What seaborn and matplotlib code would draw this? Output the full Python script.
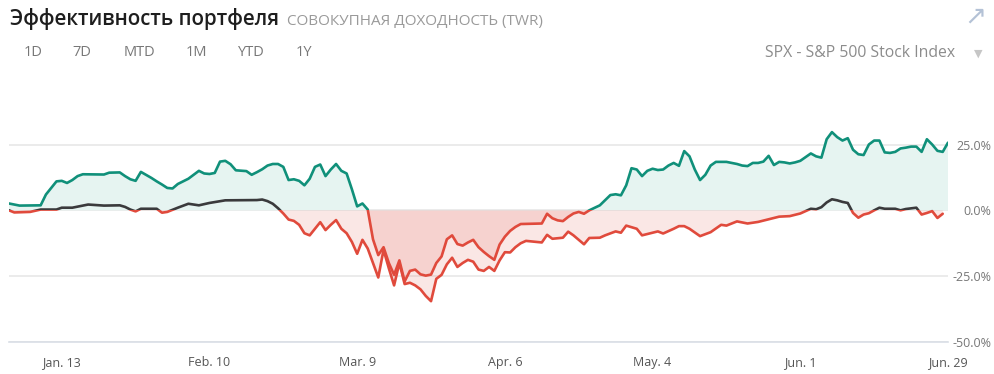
import matplotlib
matplotlib.use("Agg")
import matplotlib.pyplot as plt
import matplotlib.transforms as mtransforms
from matplotlib.patches import Rectangle
import seaborn as sns
import pandas as pd

YEAR = "2020-"

# Portfolio, cumulative return (TWR), %
P_DAYS = [
    "01-03", "01-05", "01-09", "01-10", "01-11", "01-12", "01-13", "01-14", "01-15", "01-16",
    "01-17", "01-21", "01-22", "01-24", "01-25", "01-26", "01-27", "01-28", "01-30", "01-31",
    "02-01", "02-02", "02-03", "02-04", "02-05", "02-06", "02-07", "02-08", "02-09", "02-10",
    "02-11", "02-12", "02-13", "02-14", "02-15", "02-17", "02-18", "02-19", "02-20", "02-21",
    "02-22", "02-23", "02-24", "02-25", "02-26", "02-27", "02-28", "02-29", "03-01", "03-02",
    "03-03", "03-04", "03-05", "03-06", "03-07", "03-08", "03-09", "03-10", "03-11", "03-12",
    "03-13", "03-14", "03-15", "03-16", "03-17", "03-18", "03-19", "03-20", "03-21", "03-22",
    "03-23", "03-24", "03-25", "03-26", "03-27", "03-28", "03-29", "03-30", "03-31", "04-01",
    "04-02", "04-03", "04-04", "04-05", "04-06", "04-07", "04-08", "04-09", "04-13", "04-14",
    "04-15", "04-16", "04-17", "04-18", "04-19", "04-20", "04-21", "04-22", "04-24", "04-26",
    "04-27", "04-28", "04-29", "04-30", "05-01", "05-02", "05-03", "05-04", "05-05", "05-06",
    "05-07", "05-08", "05-09", "05-10", "05-11", "05-12", "05-13", "05-14", "05-15", "05-16",
    "05-18", "05-20", "05-21", "05-22", "05-23", "05-24", "05-25", "05-26", "05-27", "05-28",
    "05-29", "05-30", "05-31", "06-01", "06-02", "06-03", "06-04", "06-05", "06-06", "06-07",
    "06-08", "06-09", "06-10", "06-11", "06-12", "06-13", "06-14", "06-15", "06-16", "06-17",
    "06-18", "06-19", "06-20", "06-21", "06-22", "06-23", "06-24", "06-25", "06-26", "06-27",
    "06-28", "06-29",
]
P_VALUES = [
    2.6, 1.8, 1.9, 6.0, 8.5, 11.0, 11.2, 10.4, 11.5, 13.0,
    13.7, 13.6, 14.3, 14.4, 13.0, 11.8, 11.2, 14.6, 12.3, 11.0,
    9.8, 8.5, 8.3, 10.0, 11.0, 12.0, 13.5, 15.0, 14.0, 13.8,
    14.2, 18.5, 18.8, 17.5, 15.2, 14.9, 13.5, 14.5, 15.6, 17.0,
    17.6, 17.6, 16.5, 11.5, 11.8, 11.2, 9.5, 12.0, 16.5, 17.4,
    13.0, 15.5, 17.6, 15.0, 14.0, 8.0, 1.5, 2.6, 0.3, -11.0,
    -17.0, -14.0, -20.0, -24.5, -19.0, -27.0, -23.0, -22.5, -24.3, -24.8,
    -24.4, -20.0, -17.5, -11.0, -9.5, -12.8, -13.4, -12.2, -11.2, -14.0,
    -15.8, -17.4, -18.8, -13.0, -10.0, -7.8, -6.3, -5.2, -5.0, -1.3,
    -3.0, -3.8, -4.1, -2.5, -1.2, -0.6, -1.3, 0.0, 1.9, 5.8,
    6.1, 5.7, 9.5, 16.0, 15.5, 13.0, 15.0, 15.8, 15.3, 15.5,
    17.0, 18.0, 16.9, 22.5, 20.5, 15.5, 11.5, 13.5, 17.0, 18.4,
    18.4, 17.6, 17.0, 16.8, 18.0, 18.0, 18.5, 20.7, 17.2, 18.4,
    18.2, 17.8, 18.2, 18.8, 20.2, 21.6, 20.5, 20.0, 27.0, 29.7,
    27.8, 26.5, 27.4, 23.0, 21.3, 21.0, 25.0, 26.5, 26.5, 22.0,
    21.8, 22.2, 23.5, 23.8, 24.2, 24.2, 22.2, 27.0, 25.0, 22.6,
    22.2, 25.7,
]

# Benchmark: SPX - S&P 500 Stock Index, %
B_DAYS = [
    "01-03", "01-04", "01-07", "01-09", "01-12", "01-13", "01-15", "01-18", "01-21", "01-24",
    "01-25", "01-26", "01-27", "01-28", "01-31", "02-01", "02-02", "02-03", "02-04", "02-06",
    "02-08", "02-10", "02-13", "02-19", "02-20", "02-21", "02-22", "02-23", "02-24", "02-25",
    "02-26", "02-27", "02-28", "02-29", "03-01", "03-02", "03-03", "03-04", "03-05", "03-06",
    "03-07", "03-08", "03-09", "03-10", "03-11", "03-12", "03-13", "03-14", "03-15", "03-16",
    "03-17", "03-18", "03-19", "03-20", "03-21", "03-22", "03-23", "03-24", "03-25", "03-26",
    "03-27", "03-28", "03-29", "03-30", "03-31", "04-01", "04-02", "04-03", "04-04", "04-05",
    "04-06", "04-07", "04-08", "04-09", "04-10", "04-13", "04-14", "04-15", "04-17", "04-18",
    "04-19", "04-21", "04-22", "04-24", "04-25", "04-27", "04-28", "04-29", "05-01", "05-02",
    "05-04", "05-05", "05-06", "05-08", "05-09", "05-10", "05-11", "05-13", "05-15", "05-17",
    "05-18", "05-20", "05-22", "05-24", "05-26", "05-28", "05-30", "06-01", "06-02", "06-03",
    "06-04", "06-05", "06-06", "06-07", "06-08", "06-09", "06-10", "06-11", "06-12", "06-13",
    "06-14", "06-15", "06-16", "06-17", "06-19", "06-20", "06-21", "06-23", "06-24", "06-25",
    "06-26", "06-27", "06-28",
]
B_VALUES = [
    0.0, -0.8, -0.6, 0.3, 0.3, 1.0, 1.0, 2.2, 1.8, 1.9,
    1.3, 0.3, -0.4, 0.6, 0.6, -0.9, -0.6, 0.2, 1.0, 2.5,
    1.9, 2.8, 3.8, 3.9, 4.1, 3.5, 2.5, 0.8, -1.2, -3.5,
    -4.0, -5.5, -8.7, -9.5, -7.0, -4.5, -7.5, -5.5, -3.7, -7.0,
    -8.7, -12.0, -16.5, -11.2, -14.5, -20.0, -25.5, -15.0, -22.0, -28.5,
    -20.0, -28.0, -27.5, -28.5, -30.0, -32.5, -34.5, -26.0, -24.5, -20.5,
    -18.0, -21.5, -20.0, -18.8, -19.5, -22.5, -23.0, -21.5, -23.0, -19.0,
    -15.9, -16.0, -14.0, -12.5, -11.6, -12.2, -9.3, -10.8, -10.4, -8.1,
    -9.5, -12.9, -10.5, -10.4, -9.5, -8.0, -8.5, -5.8, -7.0, -9.5,
    -8.5, -8.0, -8.8, -7.0, -6.0, -6.0, -7.0, -9.8, -8.3, -5.5,
    -5.8, -4.2, -5.0, -4.4, -3.4, -2.4, -2.2, -1.2, -0.3, 0.6,
    0.4, 1.2, 3.0, 4.2, 3.8, 3.2, 2.8, -1.0, -2.8, -1.6,
    -1.1, 0.0, 1.0, 0.6, 0.6, 0.0, 0.5, 1.0, -1.6, -1.0,
    -0.3, -2.9, -1.3,
]

TICK_DAYS = ["01-13", "02-10", "03-09", "04-06", "05-04", "06-01", "06-29"]
TICK_LABELS = ["Jan. 13", "Feb. 10", "Mar. 9", "Apr. 6", "May. 4", "Jun. 1", "Jun. 29"]
Y_TICKS = [25, 0, -25, -50]
PERIODS = ["1D", "7D", "MTD", "1M", "YTD", "1Y"]

GREEN = "#10907a"
GREEN_FILL = "#e6f4f1"
RED = "#e04a3c"
DARK = "#3a3a3c"

p_df = pd.DataFrame({"date": pd.to_datetime([YEAR + d for d in P_DAYS]), "value": P_VALUES})
b_df = pd.DataFrame({"date": pd.to_datetime([YEAR + d for d in B_DAYS]), "value": B_VALUES})

sns.set_theme(style="white")
plt.rcParams["font.family"] = ["Open Sans", "DejaVu Sans"]

W, H = 994, 374
fig = plt.figure(figsize=(W / 100, H / 100), dpi=100)
ax = fig.add_axes([9 / W, 1 - 342 / H, (948 - 9) / W, (342 - 105) / H])

# areas between zero and each series
ax.fill_between(p_df["date"], 0, p_df["value"], where=p_df["value"] >= 0,
                interpolate=True, color=GREEN_FILL, lw=0, zorder=1)
ax.fill_between(p_df["date"], 0, p_df["value"], where=p_df["value"] <= 0,
                interpolate=True, color=RED, alpha=0.13, lw=0, zorder=1)
ax.fill_between(b_df["date"], 0, b_df["value"], where=b_df["value"] <= 0,
                interpolate=True, color=RED, alpha=0.13, lw=0, zorder=1)

# lines: one colour above zero, red below zero
blend = mtransforms.blended_transform_factory(ax.transAxes, ax.transData)
for df, up_color in [(b_df, DARK), (p_df, GREEN)]:
    for color, y0 in [(up_color, 0), (RED, -1000)]:
        sns.lineplot(data=df, x="date", y="value", color=color, lw=1.9, ax=ax, zorder=3)
        ax.lines[-1].set_clip_path(Rectangle((0, y0), 1, 1000, transform=blend))

ax.set_xlim(p_df["date"].iloc[0], p_df["date"].iloc[-1])
ax.set_ylim(-50, 40)

for s in ["top", "left", "right"]:
    ax.spines[s].set_visible(False)
ax.spines["bottom"].set_color("#d9dee6")
ax.spines["bottom"].set_linewidth(1.2)
ax.yaxis.grid(True, color="#e9e9e9", lw=1.3, zorder=0)
ax.set_axisbelow(True)

ax.set_xticks(pd.to_datetime([YEAR + d for d in TICK_DAYS]))
ax.set_xticklabels(TICK_LABELS)
ax.tick_params(axis="x", length=0, pad=10, labelsize=9, labelcolor="#555555")

ax.yaxis.tick_right()
ax.set_yticks(Y_TICKS)
ax.set_yticklabels([f"{v:.1f}%" for v in Y_TICKS])
ax.tick_params(axis="y", length=0, pad=31, labelsize=9, labelcolor="#777777")
for lbl in ax.get_yticklabels():
    lbl.set_horizontalalignment("right")
ax.set_xlabel("")
ax.set_ylabel("")

# header
fig.text(10 / W, 1 - 25 / H, "Эффективность портфеля", fontsize=14.8, fontweight="semibold",
         color="#1e1e1e", va="baseline")
fig.text(287 / W, 1 - 25 / H, "СОВОКУПНАЯ ДОХОДНОСТЬ (TWR)", fontsize=11, color="#9a9a9a",
         va="baseline")
for label, xc in zip(PERIODS, [33, 82, 139, 196, 251, 304]):
    fig.text(xc / W, 1 - 53 / H, label, fontsize=10.5, fontweight="medium", color="#777777",
             ha="center", va="center")
fig.text(955 / W, 1 - 53 / H, "SPX - S&P 500 Stock Index", fontsize=11.3, color="#8c8c8c",
         ha="right", va="center")
fig.text(978 / W, 1 - 54 / H, "▼", fontsize=8, color="#c6c6c6", ha="center", va="center")
fig.text(975 / W, 1 - 17 / H, "↗", fontsize=19, color="#b4c2d6", ha="center", va="center")

fig.savefig("out.png", dpi=100)
